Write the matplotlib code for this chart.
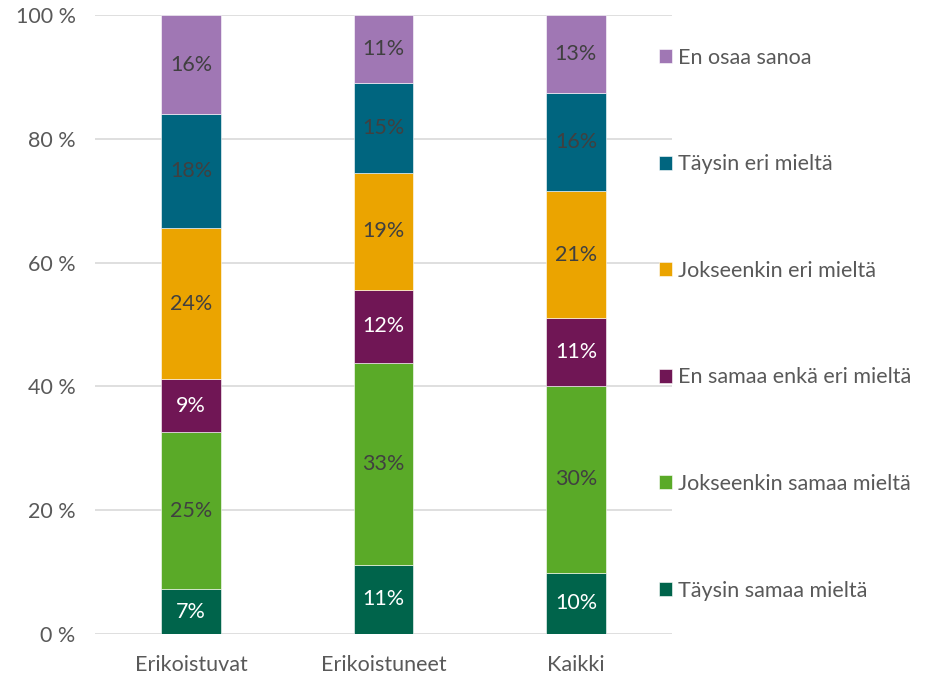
import numpy as np
import matplotlib.pyplot as plt

plt.rcParams['font.family'] = ['Lato', 'DejaVu Sans']

categories = ['Erikoistuvat', 'Erikoistuneet', 'Kaikki']
series = ['Täysin samaa mieltä', 'Jokseenkin samaa mieltä', 'En samaa enkä eri mieltä',
          'Jokseenkin eri mieltä', 'Täysin eri mieltä', 'En osaa sanoa']
taysin_samaa = [7.2, 11.2, 9.9]
jokseenkin_samaa = [25.4, 32.6, 30.2]
ei_samaa_eika_eri = [8.6, 11.8, 10.9]
jokseenkin_eri = [24.4, 18.9, 20.6]
taysin_eri = [18.4, 14.6, 15.8]
en_osaa = [16.0, 10.9, 12.6]
values = [taysin_samaa, jokseenkin_samaa, ei_samaa_eika_eri, jokseenkin_eri, taysin_eri, en_osaa]

colors = ['#00644b', '#5aaa28', '#701655', '#eba400', '#00657f', '#a077b4']
label_colors = ['white', '#404040', 'white', '#404040', '#404040', '#404040']
fs = 15.5

fig = plt.figure(figsize=(9.36, 6.77), dpi=100)
ax = fig.add_axes([0.1015, 0.0635, 0.6165, 0.914])

x = np.arange(len(categories))
bottom = np.zeros(len(categories))
handles = []
for vals, name, col, lc in zip(values, series, colors, label_colors):
    vals = np.array(vals)
    b = ax.bar(x, vals, 0.31, bottom=bottom, color=col, label=name, zorder=3,
               edgecolor='white', linewidth=0.4)
    handles.append(b)
    for xi, v, bt in zip(x, vals, bottom):
        ax.text(xi, bt + v / 2, '{:.0f}%'.format(v), ha='center', va='center',
                color=lc, fontsize=fs, zorder=4)
    bottom += vals

ax.set_xlim(-0.5, 2.5)
ax.set_ylim(0, 100)
ax.set_yticks(np.arange(0, 101, 20))
ax.set_yticklabels(['{} %'.format(v) for v in range(0, 101, 20)])
ax.set_xticks(x)
ax.set_xticklabels(categories)
ax.tick_params(axis='both', length=0, labelsize=fs, colors='#595959')
ax.tick_params(axis='y', pad=14)
ax.tick_params(axis='x', pad=15)
ax.grid(axis='y', color='#d9d9d9', linewidth=1.2, zorder=0)
for s in ax.spines.values():
    s.set_visible(False)

leg = fig.legend(handles[::-1], series[::-1], loc='upper left',
                 bbox_to_anchor=(0.683, 0.958), frameon=False, fontsize=fs,
                 labelspacing=4.02, handlelength=0.62, handleheight=0.62,
                 handletextpad=0.3, labelcolor='#595959')

fig.savefig('out.png', dpi=100)
